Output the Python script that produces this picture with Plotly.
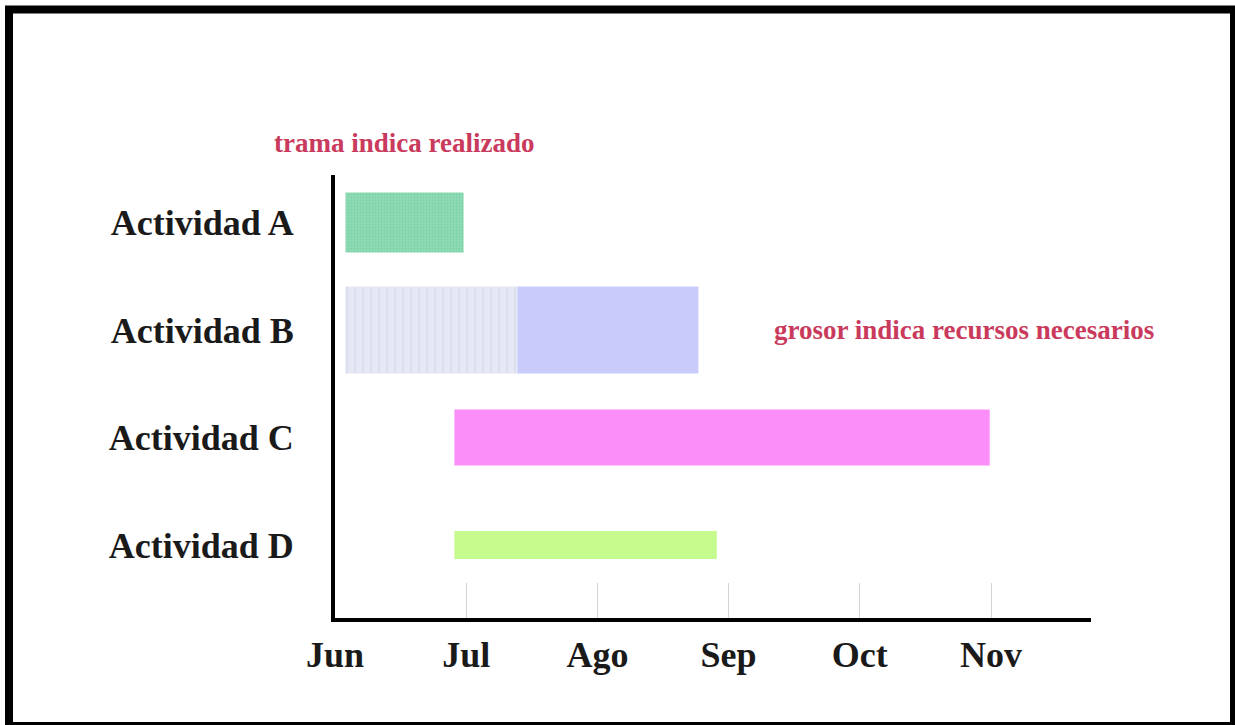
import plotly.graph_objects as go

# ---- data ----
activities = ["Actividad A", "Actividad B", "Actividad C", "Actividad D"]
month_labels = ["Jun", "Jul", "Ago", "Sep", "Oct", "Nov"]
month_pos = [0, 1, 2, 3, 4, 5]          # months since June
start = [0.08, 0.08, 0.91, 0.91]        # start (months since June)
done_until = [0.98, 1.39, 0.91, 0.91]   # progress (patterned part)
end = [0.98, 2.77, 4.99, 2.91]          # finish
resources = [0.56, 0.81, 0.52, 0.26]    # bar thickness = resources
done_colors = ["#8edcb5", "#e6e8f4", "#fb8ef8", "#c6fb8e"]
todo_colors = ["#8edcb5", "#c9ccfa", "#fb8ef8", "#c6fb8e"]
done_fg = ["#7ccfa6", "#dde0f0", "#fb8ef8", "#c6fb8e"]
done_shape = [".", "|", "", ""]
done_size = [3, 8, 8, 8]

note_done = "trama indica realizado"
note_res = "grosor indica recursos necesarios"

fig = go.Figure()

# completed part (patterned), one trace per activity
for i in range(len(activities)):
    if done_until[i] > start[i]:
        fig.add_trace(go.Bar(
            orientation="h",
            y=[activities[i]],
            base=[start[i]],
            x=[done_until[i] - start[i]],
            width=[resources[i]],
            marker=dict(
                color=done_colors[i],
                line=dict(width=0),
                pattern=dict(shape=done_shape[i], fillmode="overlay",
                             bgcolor=done_colors[i], fgcolor=done_fg[i],
                             fgopacity=1, size=done_size[i], solidity=0.3),
            ),
            hoverinfo="skip", showlegend=False,
        ))

# remaining part
for i in range(len(activities)):
    if end[i] > done_until[i]:
        fig.add_trace(go.Bar(
            orientation="h",
            y=[activities[i]],
            base=[done_until[i]],
            x=[end[i] - done_until[i]],
            width=[resources[i]],
            marker=dict(color=todo_colors[i], line=dict(width=0)),
            hoverinfo="skip", showlegend=False,
        ))

W, H = 1235, 725
L, R, T, B = 335, 144, 175, 107
pw, ph = W - L - R, H - T - B

def px(x):
    return (x - L) / pw

def py(y):
    return (H - B - y) / ph

note_font = dict(family="Liberation Serif", size=27, color="#c93a5c", weight="bold")

fig.update_layout(
    width=W, height=H,
    margin=dict(l=L, r=R, t=T, b=B, autoexpand=False),
    paper_bgcolor="white", plot_bgcolor="white",
    barmode="overlay",
    font=dict(family="Liberation Serif", color="#1a1a1a"),
    xaxis=dict(
        range=[0, 5.762], tickvals=month_pos, ticktext=month_labels,
        showgrid=False, zeroline=False, showline=True, linecolor="black", linewidth=4,
        ticks="inside", ticklen=35, tickcolor="#d4d4d4", tickwidth=1,
        tickfont=dict(family="Liberation Serif", size=36, color="#1a1a1a", weight="bold"),
        ticklabelstandoff=2,
    ),
    yaxis=dict(
        type="category", categoryarray=activities,
        range=[3.679, -0.442],
        showgrid=False, zeroline=False, showline=True, linecolor="black", linewidth=4,
        ticks="", tickfont=dict(family="Liberation Serif", size=36, color="#1a1a1a", weight="bold"),
        ticklabelstandoff=30,
    ),
    annotations=[
        dict(text=note_done, xref="paper", yref="paper", x=px(404), y=py(143),
             xanchor="center", yanchor="middle", showarrow=False, font=note_font),
        dict(text=note_res, xref="x", yref="y", x=3.33, y=activities[1],
             xanchor="left", yanchor="middle", showarrow=False, font=note_font),
    ],
    shapes=[
        dict(type="rect", xref="paper", yref="paper",
             x0=px(9), x1=px(1234), y0=py(726), y1=py(9.5),
             line=dict(color="black", width=8), fillcolor="rgba(0,0,0,0)", layer="above"),
    ],
)

fig.write_html("out.html")
